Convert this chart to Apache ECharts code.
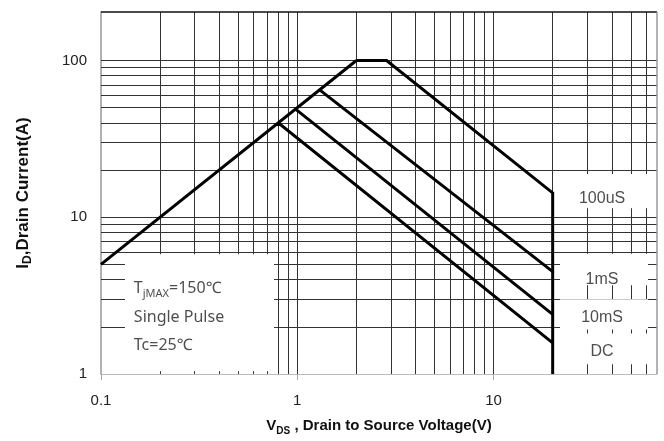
<!DOCTYPE html>
<html>
<head>
<meta charset="utf-8">
<script src="https://cdn.jsdelivr.net/npm/echarts@6/dist/echarts.min.js"></script>
<style>
  html, body { margin: 0; padding: 0; background: #fff; }
  #chart { width: 664px; height: 441px; }
</style>
</head>
<body>
<div id="chart"></div>
<script>
// Maximum safe operating area, drain current vs drain-source voltage (log-log)

// Axis ranges and tick values
const xMin = 0.1, xMax = 68;
const yMin = 1, yMax = 204;
const xTickLabels = [0.1, 1, 10];
const yTickLabels = [1, 10, 100];

// Grid line values (decade + minor lines)
const xGridValues = [0.2, 0.3, 0.4, 0.5, 0.6, 0.7, 0.8, 0.9, 1, 2, 3, 4, 5, 6, 7, 8, 9, 10, 20, 30, 40, 50, 60];
const yGridValues = [2, 3, 4, 5, 6, 7, 8, 9, 10, 20, 30, 40, 50, 60, 70, 80, 90, 100];

// Curves: [V_DS (V), I_D (A)]
const rdsOnLimit = [[0.1, 5], [2, 100]];
const pulse100us = [[2, 100], [2.85, 100], [20, 14.3], [20, 1]];
const pulse1ms   = [[1.3, 65], [20, 4.5]];
const pulse10ms  = [[0.98, 49], [20, 2.4]];
const dcCurve    = [[0.78, 39], [0.82, 39], [20, 1.58]];

// Curve labels: [V, I, text]
const curveLabels = [
  [35.7, 13.1, '100uS'],
  [35.7, 4.02, '1mS'],
  [35.7, 2.28, '10mS'],
  [35.7, 1.40, 'DC']
];

// Test condition notes: [V, I, text key]
const conditionNotes = [
  [0.147, 3.52, 'tj'],
  [0.147, 2.30, 'pulse'],
  [0.147, 1.52, 'tc']
];

// White backdrop panels behind the annotations: [V1, I1, V2, I2]
const notePanels = [
  [0.1325, 1.04, 0.7615, 5.8],
  [21.8, 11.4, 61.2, 18.9],
  [21.8, 3.68, 61.2, 5.85],
  [21.8, 1.92, 61.2, 3.0],
  [21.8, 1.155, 61.2, 1.81]
];

const chart = echarts.init(document.getElementById('chart'), null, { renderer: 'canvas' });

const curveStyle = { color: '#000', width: 3, join: 'miter', cap: 'butt' };
function curve(name, data) {
  return {
    name, type: 'line', data, z: 3,
    showSymbol: false, symbol: 'none', silent: true,
    lineStyle: curveStyle, animation: false
  };
}

const titleRich = size => ({
  b: { fontFamily: 'Liberation Sans', fontWeight: 'bold', fontSize: size, color: '#111', lineHeight: size + 5 },
  s: { fontFamily: 'Liberation Sans', fontWeight: 'bold', fontSize: Math.round(size * 0.68), color: '#111', lineHeight: 10, verticalAlign: 'bottom' }
});

const option = {
  animation: false,
  backgroundColor: '#fff',
  grid: { left: 101, right: 7, top: 12, bottom: 63, containLabel: false },
  xAxis: {
    type: 'log', logBase: 10, min: xMin, max: xMax,
    name: '{b|V}{s|DS}{b| , Drain to Source Voltage(V)}',
    nameLocation: 'middle', nameGap: 42,
    nameTextStyle: { rich: titleRich(15) },
    axisLine: { show: true, lineStyle: { color: '#bbb', width: 1 } },
    axisTick: { show: true, length: 6, lineStyle: { color: '#aaa' } },
    axisLabel: {
      showMaxLabel: false, margin: 19,
      fontFamily: 'Liberation Sans', fontSize: 15, color: '#222',
      formatter: v => (xTickLabels.some(t => Math.abs(t - v) < 1e-9) ? String(v) : '')
    },
    splitLine: { show: false }
  },
  yAxis: {
    type: 'log', logBase: 10, min: yMin, max: yMax,
    name: '{b|I}{s|D}{b|,Drain Current(A)}',
    nameLocation: 'middle', nameGap: 67, nameRotate: 90,
    nameTextStyle: { rich: titleRich(17) },
    axisLine: { show: true, lineStyle: { color: '#999', width: 1.5 } },
    axisTick: { show: false },
    axisLabel: {
      showMaxLabel: false, margin: 14,
      fontFamily: 'Liberation Sans', fontSize: 15, color: '#222',
      formatter: v => (yTickLabels.some(t => Math.abs(t - v) < 1e-9) ? String(v) : '')
    },
    splitLine: { show: false }
  },
  series: [
    {
      // grid lines and plot frame
      name: 'grid', type: 'line', data: [], z: 1, silent: true,
      markLine: {
        z: 1, silent: true, symbol: ['none', 'none'], animation: false,
        label: { show: false },
        emphasis: { disabled: true },
        lineStyle: { color: '#333', width: 1, type: 'solid' },
        data: [
          ...xGridValues.map(v => ({ xAxis: v })),
          ...yGridValues.map(v => ({ yAxis: v })),
          { yAxis: yMax, lineStyle: { color: '#111', width: 1.5 } },
          { xAxis: xMax, lineStyle: { color: '#999', width: 1.5 } }
        ]
      }
    },
    {
      // white panels behind the notes
      name: 'panels', type: 'custom', z: 2, silent: true,
      data: notePanels,
      renderItem: (params, api) => {
        const p1 = api.coord([api.value(0), api.value(1)]);
        const p2 = api.coord([api.value(2), api.value(3)]);
        return {
          type: 'rect',
          shape: {
            x: Math.min(p1[0], p2[0]), y: Math.min(p1[1], p2[1]),
            width: Math.abs(p2[0] - p1[0]), height: Math.abs(p2[1] - p1[1])
          },
          style: { fill: '#fff' }
        };
      }
    },
    curve('Rds(on)', rdsOnLimit),
    curve('100uS', pulse100us),
    curve('1mS', pulse1ms),
    curve('10mS', pulse10ms),
    curve('DC', dcCurve),
    {
      name: 'curve labels', type: 'scatter', z: 4, silent: true,
      symbolSize: 0,
      data: curveLabels.map(d => ({ value: [d[0], d[1]], text: d[2] })),
      label: {
        show: true, position: 'inside', align: 'center', verticalAlign: 'middle',
        fontFamily: 'Liberation Sans', fontSize: 16, color: '#222',
        formatter: p => p.data.text
      }
    },
    {
      name: 'conditions', type: 'scatter', z: 4, silent: true,
      symbolSize: 0,
      data: conditionNotes.map(d => ({ value: [d[0], d[1]], key: d[2] })),
      label: {
        show: true, position: 'inside', align: 'left', verticalAlign: 'middle',
        formatter: p => {
          if (p.data.key === 'tj') return '{m|T}{s|jMAX}{m|=150℃}';
          if (p.data.key === 'pulse') return '{m|Single Pulse}';
          return '{m|Tc=25℃}';
        },
        rich: {
          m: { fontFamily: 'Noto Sans', fontSize: 16, color: '#222', lineHeight: 22 },
          s: { fontFamily: 'Noto Sans', fontSize: 11, color: '#222', lineHeight: 12, verticalAlign: 'bottom' }
        }
      }
    }
  ]
};

chart.setOption(option);
</script>
</body>
</html>
